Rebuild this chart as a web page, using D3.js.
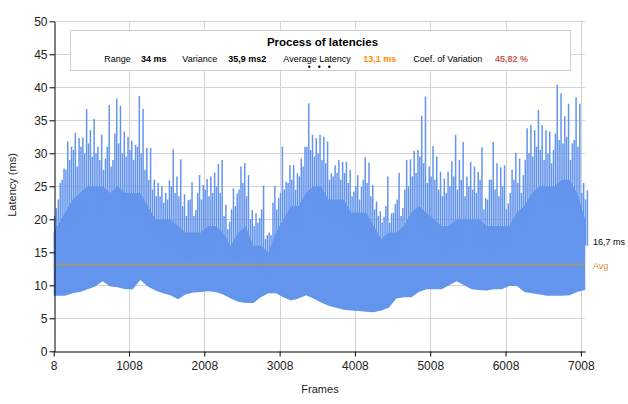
<!DOCTYPE html>
<html>
<head>
<meta charset="utf-8">
<script src="https://cdn.jsdelivr.net/npm/d3@7"></script>
<style>
  html, body { margin: 0; padding: 0; background: #fff; }
  svg { display: block; font-family: "Liberation Sans", Arial, sans-serif; }
</style>
</head>
<body>
<svg id="chart" width="628" height="404"></svg>
<script>
// ---- data ----
const xTicks = [8, 1008, 2008, 3008, 4008, 5008, 6008, 7008];
const yTicks = [0, 5, 10, 15, 20, 25, 30, 35, 40, 45, 50];
const spikeStep = 50;   // frames per spike bucket
const bandStep = 100;   // frames per band bucket
const firstFrame = 8;
const lastFrame = 7066;
// highest latency per 50-frame bucket
const spikeMax = [
  21.7, 25.5, 27.7, 31.8, 31.0, 33.1, 32.3, 32.4, 36.7, 33.5,
  35.2, 31.0, 32.8, 29.2, 37.3, 29.0, 38.3, 37.2, 33.3, 32.5,
  31.9, 31.3, 38.7, 36.7, 30.8, 30.8, 26.0, 25.5, 25.0, 24.0,
  25.9, 30.6, 26.5, 29.1, 23.8, 22.9, 25.6, 21.4, 26.7, 25.2,
  26.1, 26.5, 27.1, 28.4, 29.0, 22.2, 19.6, 24.7, 23.9, 28.0,
  28.5, 26.7, 21.4, 20.9, 20.2, 25.1, 17.6, 17.6, 25.1, 23.2,
  31.0, 25.7, 28.2, 28.2, 27.0, 29.2, 31.0, 37.6, 32.8, 32.3,
  32.8, 32.5, 31.8, 27.0, 28.2, 29.0, 28.7, 28.7, 27.5, 24.2,
  26.7, 24.9, 29.4, 28.6, 25.2, 22.7, 21.2, 20.4, 26.5, 20.9,
  22.3, 27.0, 21.7, 29.0, 29.1, 30.4, 30.5, 35.7, 38.6, 28.0,
  31.1, 29.5, 27.2, 26.2, 27.2, 28.8, 32.8, 29.0, 31.7, 26.5,
  28.7, 28.0, 27.2, 30.9, 23.2, 26.0, 31.7, 28.5, 27.9, 28.2,
  22.4, 27.5, 30.1, 29.2, 26.7, 33.8, 34.3, 33.5, 36.6, 34.3,
  33.5, 33.3, 30.5, 40.4, 39.1, 35.6, 37.5, 31.5, 38.5, 37.5,
  25.5, 24.4
];
// second-highest latency per 50-frame bucket
const spikeSecond = [
  20.5, 23.0, 26.0, 27.5, 29.0, 30.5, 28.0, 31.0, 30.0, 31.5,
  29.5, 30.0, 29.0, 27.5, 31.0, 28.0, 33.0, 31.5, 30.0, 29.5,
  30.5, 29.0, 31.0, 30.0, 27.5, 26.0, 24.5, 23.5, 23.5, 22.5,
  23.0, 25.0, 24.0, 23.5, 22.0, 20.5, 23.0, 20.5, 24.0, 23.0,
  24.5, 23.5, 24.0, 25.0, 24.0, 20.5, 18.5, 21.5, 22.0, 24.5,
  25.5, 23.5, 20.0, 19.0, 19.5, 21.5, 17.0, 18.0, 22.5, 21.5,
  24.0, 24.5, 25.5, 26.0, 24.5, 26.5, 28.0, 31.0, 30.5, 29.5,
  30.0, 29.0, 28.5, 26.0, 26.5, 27.0, 26.0, 27.0, 25.5, 23.5,
  25.0, 23.0, 26.0, 25.5, 23.5, 21.5, 20.5, 19.5, 22.0, 19.5,
  21.0, 23.0, 20.5, 24.5, 25.0, 26.5, 27.0, 29.5, 28.5, 25.5,
  26.5, 26.0, 24.5, 23.5, 24.0, 25.0, 26.5, 24.5, 26.0, 23.5,
  25.0, 24.5, 24.0, 26.0, 21.5, 23.0, 26.0, 24.5, 23.5, 25.0,
  21.5, 24.0, 26.0, 25.5, 24.0, 29.0, 30.0, 29.5, 31.0, 30.5,
  29.0, 30.0, 28.5, 33.0, 32.0, 31.5, 32.5, 29.0, 32.0, 31.0,
  24.0, 23.0
];
// lowest latency per 100-frame bucket
const bandMin = [
  8.4, 8.4, 8.8, 9.0, 9.4, 9.8, 10.6, 9.8, 9.7, 9.4,
  9.4, 10.8, 9.8, 9.2, 8.8, 8.5, 7.9, 8.6, 8.9, 9.0,
  9.1, 9.0, 8.6, 8.0, 7.5, 7.3, 7.3, 8.2, 8.8, 8.8,
  8.2, 7.7, 8.0, 8.5, 8.0, 7.4, 6.9, 6.6, 6.3, 6.2,
  6.1, 6.0, 5.9, 6.2, 6.6, 8.0, 8.2, 8.2, 9.0, 9.4,
  9.4, 9.4, 10.0, 10.6, 10.0, 9.4, 9.3, 9.2, 9.4, 9.4,
  9.9, 9.9, 9.0, 8.8, 8.6, 8.4, 8.4, 8.4, 8.5, 9.0,
  9.3
];
// level below which the frames fill densely, per 100-frame bucket
const bandTop = [
  18, 21, 23, 24, 25, 25, 25, 24, 25, 24,
  24, 24, 22, 20, 20, 20, 19, 18, 18, 18,
  19, 19, 18, 16, 18, 19, 16, 16, 15, 18,
  20, 22, 22, 24, 25, 25, 23, 23, 23, 21,
  21, 21, 19, 17, 18, 18, 19, 21, 22, 21,
  20, 19, 19, 20, 20, 20, 20, 19, 19, 19,
  19, 21, 22, 24, 25, 25, 25, 26, 26, 24,
  20
];
const lastFrameValue = 16.7;
const avgLatency = 13.1;
const stats = [
  { label: "Range", value: "34 ms", color: "#000" },
  { label: "Variance", value: "35,9 ms2", color: "#000" },
  { label: "Average Latency", value: "13,1 ms", color: "#ff8c00" },
  { label: "Coef. of Variation", value: "45,82 %", color: "#cd5c5c" }
];

// ---- drawing ----
const svg = d3.select("#chart");
const x = d3.scaleLinear().domain([firstFrame, lastFrame]).range([53.7, 585.2]);
const y = d3.scaleLinear().domain([0, 50]).range([351.3, 21.3]);
const blue = "#6495ed";
const grid = "#d3d3d3";

// grid
svg.append("g").selectAll("line").data(xTicks.slice(1)).join("line")
  .attr("x1", d => Math.round(x(d)) + 0.5).attr("x2", d => Math.round(x(d)) + 0.5)
  .attr("y1", y(50)).attr("y2", y(0))
  .attr("stroke", grid).attr("stroke-width", 1);
svg.append("g").selectAll("line").data(yTicks.slice(1)).join("line")
  .attr("x1", x(firstFrame)).attr("x2", x(lastFrame))
  .attr("y1", d => Math.round(y(d)) + 0.5).attr("y2", d => Math.round(y(d)) + 0.5)
  .attr("stroke", grid).attr("stroke-width", 1);

// dense band
const bandData = bandMin.map((m, j) => ({ j, lo: m, hi: bandTop[j] }));
const bandX = d => {
  if (d.j === 0) return x(firstFrame);
  if (d.j === bandMin.length - 1) return x(lastFrame);
  return x(firstFrame + d.j * bandStep + bandStep / 2);
};
svg.append("path").datum(bandData)
  .attr("d", d3.area().x(bandX).y0(d => y(d.lo)).y1(d => y(d.hi)).curve(d3.curveLinear))
  .attr("fill", blue);

// spikes (rise from the dense band)
const spikeData = [];
spikeMax.forEach((v, i) => {
  const base = bandTop[Math.floor(i / 2)] - 4;
  spikeData.push({ f: firstFrame + i * spikeStep + 12, hi: spikeSecond[i], lo: base });
  spikeData.push({ f: firstFrame + i * spikeStep + 37, hi: v, lo: base });
});
svg.append("g").selectAll("line").data(spikeData).join("line")
  .attr("x1", d => x(d.f)).attr("x2", d => x(d.f))
  .attr("y1", d => y(d.hi)).attr("y2", d => y(d.lo))
  .attr("stroke", blue).attr("stroke-width", 1.5);

// average line
svg.append("line")
  .attr("x1", x(firstFrame)).attr("x2", x(lastFrame))
  .attr("y1", y(avgLatency)).attr("y2", y(avgLatency))
  .attr("stroke", "#9a988a").attr("stroke-width", 2);

// axes
const xAxis = d3.axisBottom(x).tickValues(xTicks).tickSize(5).tickSizeOuter(0).tickFormat(d => d);
const gx = svg.append("g").attr("transform", `translate(0,${Math.round(y(0)) + 0.5})`).call(xAxis);
gx.select(".domain").attr("stroke", "#000");
gx.selectAll(".tick line").attr("stroke", "#000");
gx.selectAll(".tick text").attr("font-size", 12).attr("fill", "#222").attr("dy", "0.9em")
  .attr("font-family", "Liberation Sans, Arial, sans-serif");

const yAxis = d3.axisLeft(y).tickValues(yTicks).tickSize(5).tickSizeOuter(0);
const gy = svg.append("g").attr("transform", `translate(${Math.round(x(firstFrame)) + 0.5},0)`).call(yAxis);
gy.select(".domain").attr("stroke", "#000");
gy.selectAll(".tick line").attr("stroke", "#000");
gy.selectAll(".tick text").attr("font-size", 12).attr("fill", "#222").attr("x", -7)
  .attr("font-family", "Liberation Sans, Arial, sans-serif");

// axis titles
svg.append("text").attr("x", 320).attr("y", 393).attr("text-anchor", "middle")
  .attr("font-size", 11).attr("fill", "#222").text("Frames");
svg.append("text").attr("transform", "translate(16,185) rotate(-90)").attr("text-anchor", "middle")
  .attr("font-size", 11).attr("fill", "#222").text("Latency (ms)");

// right labels
svg.append("text").attr("x", 593).attr("y", y(lastFrameValue) + 4)
  .attr("font-size", 9).attr("fill", "#000").text("16,7 ms");
svg.append("text").attr("x", 593).attr("y", y(avgLatency) + 4)
  .attr("font-size", 9).attr("fill", "#c89a3c").text("Avg");

// legend box
svg.append("rect").attr("x", 70.5).attr("y", 30.5).attr("width", 500).attr("height", 40)
  .attr("fill", "#fff").attr("stroke", "#d0d0d0");
svg.append("text").attr("x", 322.5).attr("y", 46).attr("text-anchor", "middle")
  .attr("font-size", 11.5).attr("font-weight", "bold").attr("fill", "#000")
  .text("Process of latencies");
const labelX = [104.3, 182.3, 283.3, 413.3];
const valueX = [141, 228.3, 363.3, 495];
stats.forEach((s, k) => {
  svg.append("text").attr("x", labelX[k]).attr("y", 62).attr("font-size", 9)
    .attr("fill", "#000").text(s.label);
  svg.append("text").attr("x", valueX[k]).attr("y", 62).attr("font-size", 9)
    .attr("font-weight", "bold").attr("fill", s.color).text(s.value);
});
svg.append("g").selectAll("circle").data([309.3, 319.3, 329.3]).join("circle")
  .attr("cx", d => d).attr("cy", 66.7).attr("r", 1.2).attr("fill", "#000");
</script>
</body>
</html>
